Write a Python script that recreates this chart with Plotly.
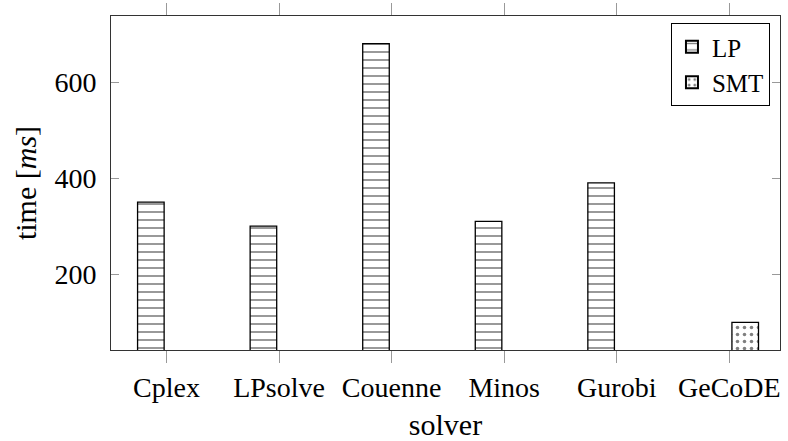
import plotly.graph_objects as go

# Solve times per solver, grouped by solver family
solvers = ["Cplex", "LPsolve", "Couenne", "Minos", "Gurobi", "GeCoDE"]
lp_times = [350, 300, 680, 310, 390, None]
smt_times = [None, None, None, None, None, 100]
y_ticks = [200, 400, 600]

FONT = "Liberation Serif"
x_pos = list(range(len(solvers)))
bar_w = 0.236

fig = go.Figure()
fig.add_trace(go.Bar(
    name="LP", x=x_pos, y=lp_times, width=bar_w, offset=-0.257,
    base=0,
    marker=dict(color="white", line=dict(color="black", width=1.3),
                pattern=dict(shape="-", size=8, solidity=0.2,
                             fgcolor="black", bgcolor="white")),
))
fig.add_trace(go.Bar(
    name="SMT", x=x_pos, y=smt_times, width=bar_w, offset=0.023,
    base=0,
    marker=dict(color="white", line=dict(color="black", width=1.3),
                pattern=dict(shape=".", size=7, solidity=0.2,
                             fgcolor="black", bgcolor="white")),
))

fig.update_layout(
    width=788, height=441,
    margin=dict(l=111, r=8, t=16, b=91),
    paper_bgcolor="white", plot_bgcolor="white",
    barmode="overlay",
    font=dict(family=FONT, size=28, color="black"),
    showlegend=True,
    legend=dict(
        x=0.985, y=0.979, xanchor="right", yanchor="top",
        bordercolor="black", borderwidth=1, bgcolor="white",
        font=dict(family=FONT, size=25), itemsizing="constant",
        tracegroupgap=0, itemwidth=30,
    ),
    xaxis=dict(
        range=[-0.493, 5.45], automargin=False,
        tickmode="array", tickvals=x_pos, ticktext=solvers,
        ticks="outside", ticklen=12, tickcolor="#999", tickwidth=1,
        showline=True, linecolor="#333", linewidth=1, mirror="ticks",
        showgrid=False, zeroline=False,
        title=dict(text="solver", standoff=22, font=dict(size=30)),
        tickfont=dict(size=28),
    ),
    yaxis=dict(
        range=[42.3, 737.5], automargin=False,
        tickmode="array", tickvals=y_ticks,
        ticks="inside", ticklen=8, tickcolor="#999", tickwidth=1,
        showline=True, linecolor="#333", linewidth=1, mirror="ticks",
        showgrid=False, zeroline=False,
        ticklabelstandoff=8,
        title=dict(text="time [<i>ms</i>]", standoff=8, font=dict(size=30)),
        tickfont=dict(size=28),
    ),
)

fig.write_html("out.html")
